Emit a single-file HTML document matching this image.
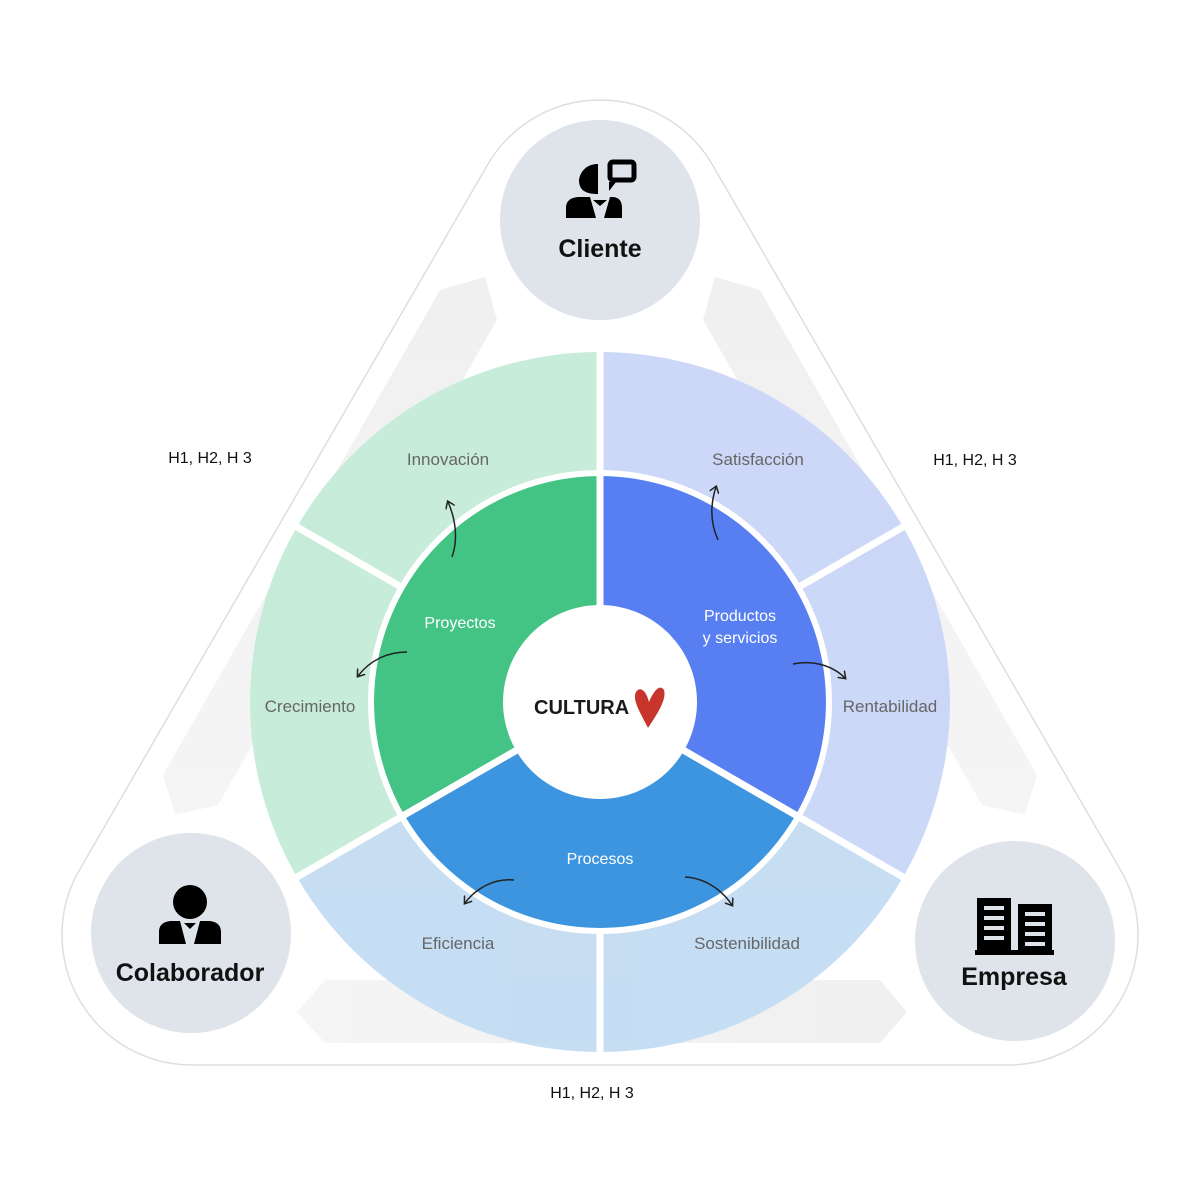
<!DOCTYPE html>
<html><head><meta charset="utf-8"><style>
body{margin:0;background:#fff}
svg{display:block}
text{font-family:"Liberation Sans",sans-serif}
</style></head><body>
<svg width="1200" height="1200" viewBox="0 0 1200 1200">
<defs>
<marker id="ah" markerWidth="10" markerHeight="10" refX="6" refY="5" orient="auto" markerUnits="userSpaceOnUse">
<path d="M0,0 L7,5 L0,10" fill="none" stroke="#222" stroke-width="1.5"/></marker>
<linearGradient id="gl" x1="0" y1="0" x2="0" y2="1"><stop offset="0" stop-color="#f0f0f0"/><stop offset="1" stop-color="#f5f5f5"/></linearGradient>
<linearGradient id="gb" x1="0" y1="0" x2="1" y2="0"><stop offset="0" stop-color="#f5f5f5"/><stop offset="1" stop-color="#f0f0f0"/></linearGradient>
</defs>
<rect width="1200" height="1200" fill="#fff"/>
<path d="M487.5,164.9 A130,130 0 0 1 712.5,164.9 L1120.5,869.9 A130,130 0 0 1 1008,1065 L192,1065 A130,130 0 0 1 79.5,869.9 Z" fill="#fff" stroke="#dedede" stroke-width="1.5"/>
<polygon points="440,290 485,277 497,320 218,805 175,815 163,775" fill="url(#gl)"/>
<polygon points="760,290 715,277 703,320 982,805 1025,815 1037,775" fill="url(#gl)"/>
<polygon points="325,980 880,980 907,1012 880,1043 325,1043 297,1012" fill="url(#gb)"/>
<g opacity="0.95">
<path d="M600,702 L296.9,527 A350,350 0 0 1 600,352 Z" fill="#c5ebd8"/>
<path d="M600,702 L296.9,877 A350,350 0 0 1 296.9,527 Z" fill="#c5ebd8"/>
<path d="M600,702 L600,352 A350,350 0 0 1 903.1,527 Z" fill="#cad6f8"/>
<path d="M600,702 L903.1,527 A350,350 0 0 1 903.1,877 Z" fill="#cad6f8"/>
<path d="M600,702 L903.1,877 A350,350 0 0 1 600,1052 Z" fill="#c3dcf2"/>
<path d="M600,702 L600,1052 A350,350 0 0 1 296.9,877 Z" fill="#c3dcf2"/>
</g>
<path d="M600,702 L404.3,815 A226,226 0 0 1 600,476 Z" fill="#43c485"/>
<path d="M600,702 L600,476 A226,226 0 0 1 795.7,815 Z" fill="#587ff1"/>
<path d="M600,702 L795.7,815 A226,226 0 0 1 404.3,815 Z" fill="#3c95de"/>
<circle cx="600" cy="702" r="229" fill="none" stroke="#fff" stroke-width="6"/>
<g stroke="#fff" stroke-width="7">
<line x1="600" y1="702" x2="600" y2="345"/>
<line x1="600" y1="702" x2="909" y2="880.5"/>
<line x1="600" y1="702" x2="291" y2="880.5"/>
<line x1="798" y1="587.5" x2="909" y2="523.5"/>
<line x1="402" y1="587.5" x2="291" y2="523.5"/>
<line x1="600" y1="930" x2="600" y2="1058"/>
</g>
<circle cx="600" cy="702" r="97" fill="#fff"/>
<text x="534" y="714" font-size="20" font-weight="bold" fill="#1a1a1a">CULTURA</text>
<path d="M648,728 C640,712 632,700 636,692 C640,686 646,690 649,702 C654,690 660,684 664,690 C667,700 656,716 648,728 Z" fill="#c7352d"/>
<g font-size="16" fill="#fff" text-anchor="middle">
<text x="460" y="628">Proyectos</text>
<text x="740" y="621">Productos</text>
<text x="740" y="643">y servicios</text>
<text x="600" y="864">Procesos</text>
</g>
<g font-size="17" fill="#666" text-anchor="middle">
<text x="448" y="465">Innovación</text>
<text x="758" y="465">Satisfacción</text>
<text x="310" y="712">Crecimiento</text>
<text x="890" y="712">Rentabilidad</text>
<text x="458" y="949">Eficiencia</text>
<text x="747" y="949">Sostenibilidad</text>
</g>
<g fill="none" stroke="#222" stroke-width="1.5" marker-end="url(#ah)">
<path d="M452,557 C458,540 456,520 448,502"/>
<path d="M718,540 C710,522 710,505 716,487"/>
<path d="M407,652 C388,652 370,660 358,676"/>
<path d="M793,664 C812,660 832,665 845,678"/>
<path d="M514,880 C495,878 476,888 465,903"/>
<path d="M685,877 C705,878 722,890 732,905"/>
</g>
<g font-size="16" fill="#111" text-anchor="middle">
<text x="210" y="463">H1, H2, H 3</text>
<text x="975" y="465">H1, H2, H 3</text>
<text x="592" y="1098">H1, H2, H 3</text>
</g>
<circle cx="600" cy="220" r="100" fill="#dfe3ea"/>
<circle cx="191" cy="933" r="100" fill="#dfe3ea"/>
<circle cx="1015" cy="941" r="100" fill="#dfe3ea"/>
<path d="M598,164 C582,164 579,178 579,180 C579,190 585,194 598,194 Z" fill="#000"/>
<rect x="610" y="162" width="24" height="18" rx="3" fill="none" stroke="#000" stroke-width="5"/>
<path d="M609,182 L609,191 L616,182 Z" fill="#000"/>
<path d="M566,218 L566,208 C566,200 572,197 580,197 L590,197 L596,218 Z M604,218 L610,197 L612,197 C618,197 622,200 622,208 L622,218 Z" fill="#000"/>
<path d="M593,200 L607,200 L600,206 Z" fill="#000"/>
<text x="600" y="257" font-size="25" font-weight="bold" fill="#111" text-anchor="middle">Cliente</text>
<circle cx="190" cy="902" r="17" fill="#000"/>
<path d="M159,944 L159,932 C159,924 165,921 172,921 L180,921 L186,944 Z M194,944 L200,921 L208,921 C215,921 221,924 221,932 L221,944 Z" fill="#000"/>
<path d="M184,923 L196,923 L190,929 Z" fill="#000"/>
<text x="190" y="981" font-size="25" font-weight="bold" fill="#111" text-anchor="middle">Colaborador</text>
<g fill="#000">
<rect x="977" y="898" width="34" height="56"/>
<rect x="1018" y="904" width="34" height="50"/>
<rect x="975" y="950" width="79" height="5"/>
</g>
<g fill="#dfe3ea">
<rect x="984" y="906" width="20" height="4"/><rect x="984" y="916" width="20" height="4"/><rect x="984" y="926" width="20" height="4"/><rect x="984" y="936" width="20" height="4"/>
<rect x="1025" y="912" width="20" height="4"/><rect x="1025" y="922" width="20" height="4"/><rect x="1025" y="932" width="20" height="4"/><rect x="1025" y="942" width="20" height="4"/>
</g>
<text x="1014" y="985" font-size="25" font-weight="bold" fill="#111" text-anchor="middle">Empresa</text>
</svg>
</body></html>
